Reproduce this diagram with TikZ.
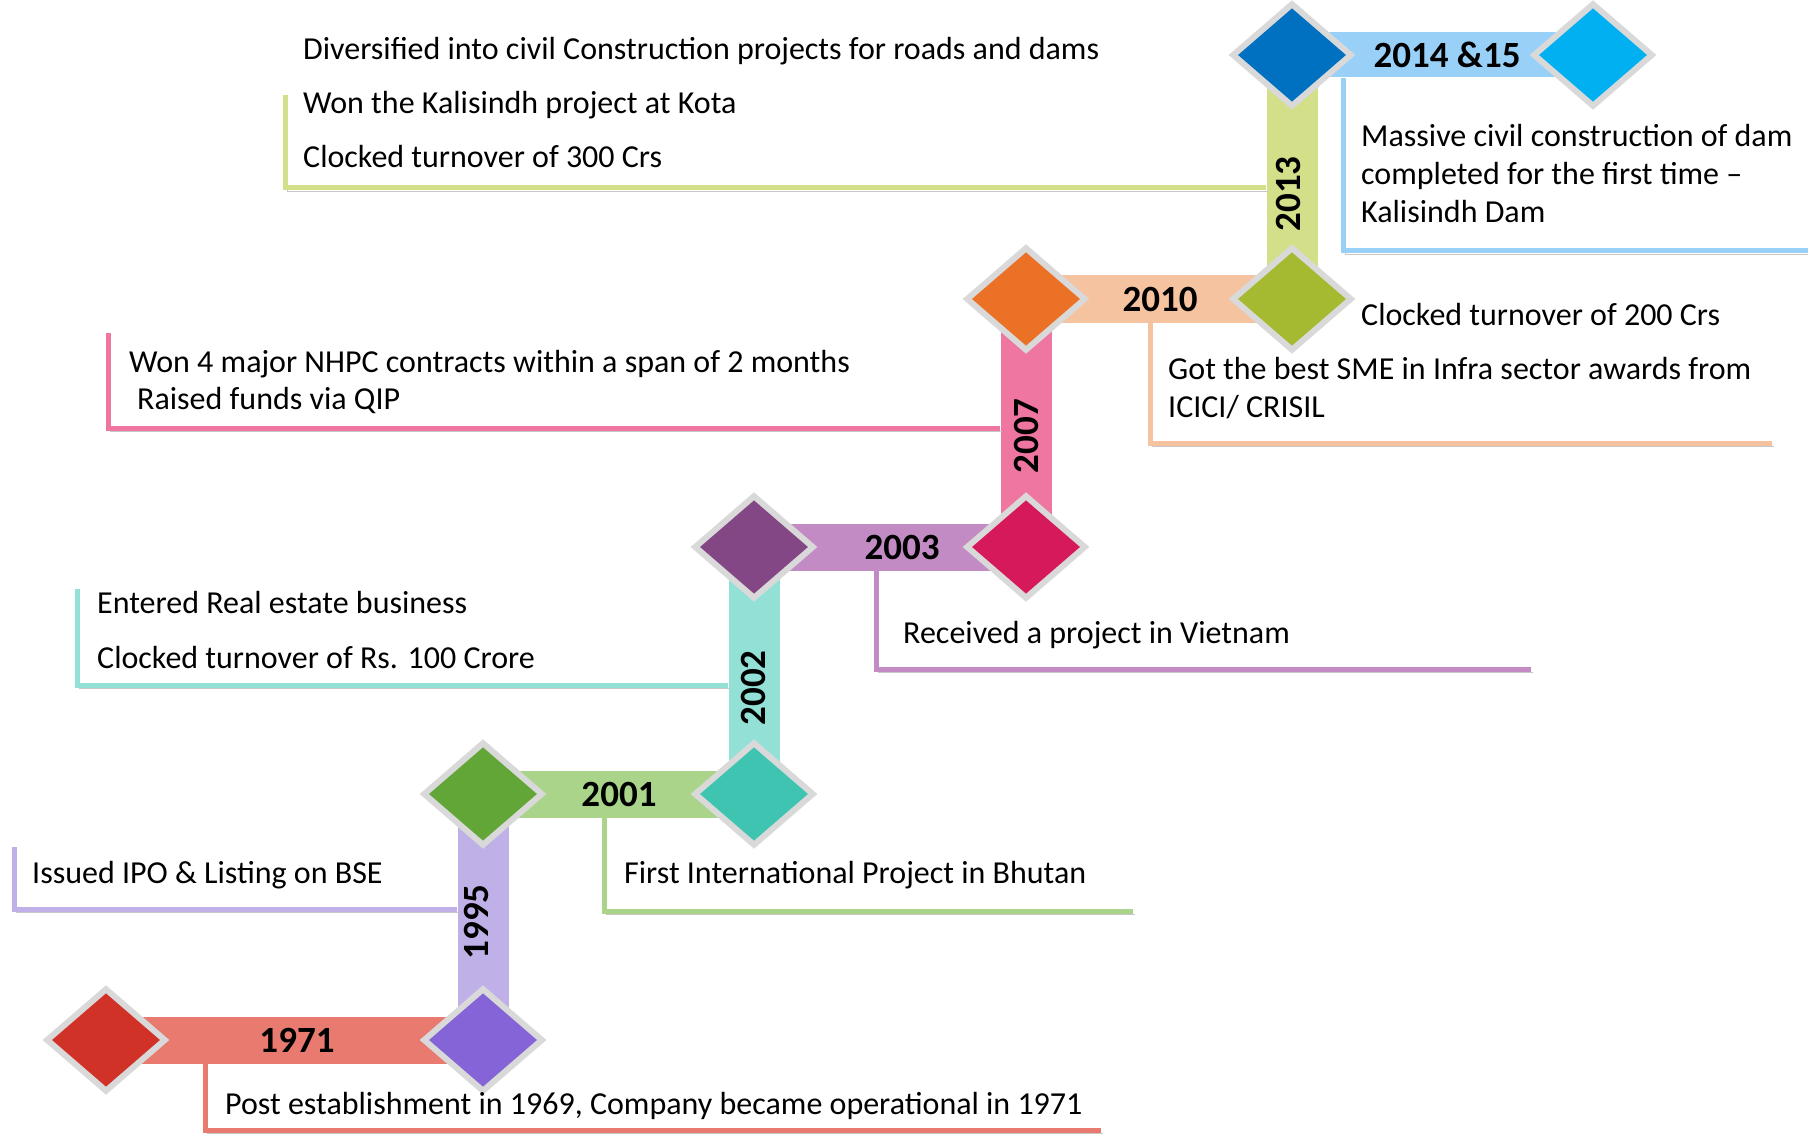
\documentclass[tikz,border=0pt]{standalone}
\usepackage{fontspec}
\setmainfont{Carlito}
\usetikzlibrary{shapes.geometric}
\definecolor{gemrim}{HTML}{D9D9D9}
\definecolor{gRed}{HTML}{D13227}
\definecolor{gViolet}{HTML}{8464D6}
\definecolor{gGreen}{HTML}{63A638}
\definecolor{gTeal}{HTML}{3FC4B2}
\definecolor{gPlum}{HTML}{844785}
\definecolor{gCrimson}{HTML}{D6195A}
\definecolor{gOrange}{HTML}{EA7125}
\definecolor{gOlive}{HTML}{A5BA30}
\definecolor{gBlue}{HTML}{0070C0}
\definecolor{gCyan}{HTML}{00B0F0}
\definecolor{cA}{HTML}{E87A70}
\definecolor{cB}{HTML}{BFB0E8}
\definecolor{cC}{HTML}{A9D48A}
\definecolor{cD}{HTML}{93E0D6}
\definecolor{cE}{HTML}{C28BC4}
\definecolor{cF}{HTML}{EF76A0}
\definecolor{cG}{HTML}{F5C3A0}
\definecolor{cH}{HTML}{D3E089}
\definecolor{cI}{HTML}{99D0F8}
\begin{document}
\begin{tikzpicture}[x=1pt,y=-1pt,
  gem/.style={diamond, draw=gemrim, line width=6pt, minimum width=120pt, minimum height=104pt, inner sep=0pt},
  hbar/.style={rectangle, inner sep=0pt, minimum height=47pt},
  vbar/.style={rectangle, inner sep=0pt, minimum width=51pt},
  yr/.style={font=\fontsize{37}{40}\selectfont\bfseries, inner sep=0pt},
  vyr/.style={yr, rotate=90},
  txt/.style={font=\fontsize{32}{38}\selectfont, anchor=base west, inner sep=0pt},
  conn/.style={line width=5pt, preaction={draw=black!22, transform canvas={xshift=2pt, yshift=-3pt}}}
]
\useasboundingbox (0,0) rectangle (1808,1134);
\fill[white] (0,0) rectangle (1808,1134);

% bars
\node[hbar, fill=cA, minimum width=377pt] (b1971) at (294.5,1040) {};
\node[vbar, fill=cB, minimum height=246pt] (b1995) at (483,917) {};
\node[hbar, fill=cC, minimum width=271pt] (b2001) at (618.5,794) {};
\node[vbar, fill=cD, minimum height=247pt] (b2002) at (754,670.5) {};
\node[hbar, fill=cE, minimum width=272pt] (b2003) at (890,547) {};
\node[vbar, fill=cF, minimum height=248pt] (b2007) at (1026,423) {};
\node[hbar, fill=cG, minimum width=266pt] (b2010) at (1159,299) {};
\node[vbar, fill=cH, minimum height=244pt] (b2013) at (1292,177) {};
\node[hbar, fill=cI, minimum width=301pt, minimum height=45pt] (b2014) at (1442.5,55) {};

% connector corner / end coordinates
\coordinate (k2013) at (285,188);  \coordinate (e2013) at (285,95);
\coordinate (k2014) at (1343,251); \coordinate (e2014) at (1808,251);
\coordinate (k2010) at (1150,443); \coordinate (e2010) at (1772,443);
\coordinate (k2007) at (108,428);  \coordinate (e2007) at (108,333);
\coordinate (k2003) at (876,669);  \coordinate (e2003) at (1531,669);
\coordinate (k2002) at (77,685);   \coordinate (e2002) at (77,589);
\coordinate (k2001) at (604,911);  \coordinate (e2001) at (1133,911);
\coordinate (k1995) at (14,909);   \coordinate (e1995) at (14,847);
\coordinate (k1971) at (205,1130); \coordinate (e1971) at (1101,1130);

% connectors
\draw[conn, cH] (b2013.west |- k2013) -- (k2013) -- (e2013);
\draw[conn, cI] (b2014.south -| k2014) -- (k2014) -- (e2014);
\draw[conn, cG] (b2010.south -| k2010) -- (k2010) -- (e2010);
\draw[conn, cF] (b2007.west |- k2007) -- (k2007) -- (e2007);
\draw[conn, cE] (b2003.south -| k2003) -- (k2003) -- (e2003);
\draw[conn, cD] (b2002.west |- k2002) -- (k2002) -- (e2002);
\draw[conn, cC] (b2001.south -| k2001) -- (k2001) -- (e2001);
\draw[conn, cB] (b1995.west |- k1995) -- (k1995) -- (e1995);
\draw[conn, cA] (b1971.south -| k1971) -- (k1971) -- (e1971);

% diamonds
\node[gem, fill=gRed] (d1971a) at (106,1040) {};
\node[gem, fill=gViolet] (d1971b) at (483,1040) {};
\node[gem, fill=gGreen] (d2001a) at (483,794) {};
\node[gem, fill=gTeal] (d2001b) at (754,794) {};
\node[gem, fill=gPlum] (d2003a) at (754,547) {};
\node[gem, fill=gCrimson] (d2003b) at (1026,547) {};
\node[gem, fill=gOrange] (d2010a) at (1026,299) {};
\node[gem, fill=gOlive] (d2010b) at (1292,299) {};
\node[gem, fill=gBlue] (d2014a) at (1292,55) {};
\node[gem, fill=gCyan] (d2014b) at (1593,55) {};

% year labels
\node[yr] (y1971) at (297,1040) {1971};
\node[vyr] (y1995) at (476,922) {1995};
\node[yr] (y2001) at (619,794) {2001};
\node[vyr] (y2002) at (753,688) {2002};
\node[yr] (y2003) at (902,547) {2003};
\node[vyr] (y2007) at (1026,436) {2007};
\node[yr] (y2010) at (1160,299) {2010};
\node[vyr] (y2013) at (1288,194) {2013};
\node[yr] (y2014) at (1447,55) {2014 \&15};

% texts
\node[txt] (t1) at (303,60) {Diversified into civil Construction projects for roads and dams};
\node[txt] (t2) at (303,114) {Won the Kalisindh project at Kota};
\node[txt] (t3) at (303,168) {Clocked turnover of 300 Crs};
\node[txt] (t4) at (1361,147) {Massive civil construction of dam};
\node[txt] (t5) at (1361,185) {completed for the first time –};
\node[txt] (t6) at (1361,223) {Kalisindh Dam};
\node[txt] (t7) at (1361,325) {Clocked turnover of 200 Crs};
\node[txt] (t8) at (1168,379) {Got the best SME in Infra sector awards from};
\node[txt] (t9) at (1168,417) {ICICI/ CRISIL};
\node[txt] (t10) at (129,372) {Won 4 major NHPC contracts within a span of 2 months};
\node[txt] (t11) at (137,409) {Raised funds via QIP};
\node[txt] (t12) at (97,613) {Entered Real estate business};
\node[txt] (t13) at (97,668) {Clocked turnover of Rs. 100 Crore};
\node[txt] (t14) at (903,643) {Received a project in Vietnam};
\node[txt] (t15) at (32,883) {Issued IPO \& Listing on BSE};
\node[txt] (t16) at (624,883) {First International Project in Bhutan};
\node[txt] (t17) at (225,1114) {Post establishment in 1969, Company became operational in 1971};
\end{tikzpicture}
\end{document}
